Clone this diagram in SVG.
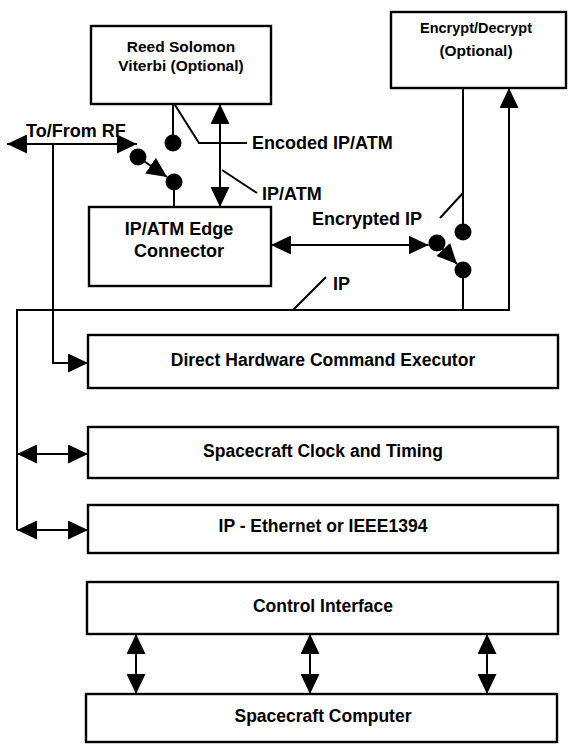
<svg xmlns="http://www.w3.org/2000/svg" width="569" height="744" viewBox="0 0 569 744">
  <style>
    .box { fill: #fff; stroke: #000; stroke-width: 2.4; }
    .ln { fill: none; stroke: #000; stroke-width: 2; }
    .dot { fill: #000; }
    text { font-family: "Liberation Sans", Arial, sans-serif; font-weight: bold; fill: #000; }
    .t { font-size: 17.5px; text-anchor: middle; }
    .ts { font-size: 15.5px; text-anchor: middle; }
    .lbl { font-size: 18px; }
  </style>
  <defs>
    <marker id="ah" viewBox="0 0 20 19" refX="20" refY="9.5" markerWidth="20" markerHeight="19" markerUnits="userSpaceOnUse" orient="auto-start-reverse">
      <path d="M0,0 L20,9.5 L0,19 z" fill="#000"/>
    </marker>
  </defs>

  <rect width="569" height="744" fill="#fff"/>

  <!-- blocks -->
  <g id="reed-solomon">
    <rect class="box" x="91" y="26" width="180" height="78"/>
    <text class="ts" x="181" y="52">Reed Solomon</text>
    <text class="ts" x="181" y="71">Viterbi (Optional)</text>
  </g>
  <g id="encrypt-decrypt">
    <rect class="box" x="391" y="12" width="175" height="76"/>
    <text class="ts" x="476" y="33" style="font-size:14.5px">Encrypt/Decrypt</text>
    <text class="ts" x="476" y="56">(Optional)</text>
  </g>
  <g id="edge-connector">
    <rect class="box" x="89" y="207" width="182" height="79"/>
    <text class="t" x="179" y="235" style="font-size:18px">IP/ATM Edge</text>
    <text class="t" x="179" y="257" style="font-size:18px">Connector</text>
  </g>
  <g id="hw-command">
    <rect class="box" x="88" y="335" width="470" height="53"/>
    <text class="t" x="323" y="366">Direct Hardware Command Executor</text>
  </g>
  <g id="clock-timing">
    <rect class="box" x="88" y="427" width="470" height="51"/>
    <text class="t" x="323" y="457">Spacecraft Clock and Timing</text>
  </g>
  <g id="ip-ethernet">
    <rect class="box" x="88" y="505" width="470" height="48"/>
    <text class="t" x="323" y="532">IP - Ethernet or IEEE1394</text>
  </g>
  <g id="control-interface">
    <rect class="box" x="87" y="582" width="471" height="52"/>
    <text class="t" x="323" y="612">Control Interface</text>
  </g>
  <g id="spacecraft-computer">
    <rect class="box" x="86" y="694" width="471" height="48"/>
    <text class="t" x="323" y="722">Spacecraft Computer</text>
  </g>

  <!-- links, switches and labels -->
  <g id="connectors">
    <!-- RF port and its switch -->
    <line class="ln" x1="7" y1="144" x2="137" y2="144" marker-start="url(#ah)" marker-end="url(#ah)"/>
    <text class="lbl" x="26" y="137">To/From RF</text>
    <line class="ln" x1="173" y1="104" x2="173" y2="135"/>
    <circle class="dot" cx="173" cy="143" r="8.5"/>
    <circle class="dot" cx="138" cy="157" r="8.5"/>
    <line class="ln" x1="138" y1="157" x2="167" y2="177" marker-end="url(#ah)"/>
    <circle class="dot" cx="174" cy="182" r="8.5"/>
    <line class="ln" x1="174" y1="182" x2="174" y2="207"/>
    <polyline class="ln" points="175,105 199,143 247,143"/>
    <text class="lbl" x="252" y="149">Encoded IP/ATM</text>

    <!-- coder to edge connector -->
    <line class="ln" x1="220" y1="104" x2="220" y2="207" marker-start="url(#ah)" marker-end="url(#ah)"/>
    <line class="ln" x1="222" y1="170" x2="257" y2="193"/>
    <text class="lbl" x="262" y="200">IP/ATM</text>

    <!-- encryption switch -->
    <line class="ln" x1="271" y1="245" x2="428.5" y2="245" marker-start="url(#ah)" marker-end="url(#ah)"/>
    <line class="ln" x1="463" y1="88" x2="463" y2="224"/>
    <circle class="dot" cx="463" cy="232" r="8.5"/>
    <circle class="dot" cx="437" cy="243" r="8.5"/>
    <line class="ln" x1="437" y1="243" x2="457" y2="264" marker-end="url(#ah)"/>
    <circle class="dot" cx="463" cy="270" r="8.5"/>
    <line class="ln" x1="463" y1="270" x2="463" y2="310"/>
    <line class="ln" x1="440" y1="218" x2="463" y2="193"/>
    <text class="lbl" x="312" y="225">Encrypted IP</text>

    <!-- IP bus -->
    <polyline class="ln" points="17,530 17,310 509,310 509,88" marker-end="url(#ah)"/>
    <line class="ln" x1="293" y1="310" x2="326" y2="277"/>
    <text class="lbl" x="333" y="290">IP</text>

    <!-- hardware command tap -->
    <polyline class="ln" points="53,144 53,363 88,363" marker-end="url(#ah)"/>

    <!-- bus drops -->
    <line class="ln" x1="17" y1="454" x2="88" y2="454" marker-start="url(#ah)" marker-end="url(#ah)"/>
    <line class="ln" x1="17" y1="530" x2="88" y2="530" marker-start="url(#ah)" marker-end="url(#ah)"/>

    <!-- control interface to computer -->
    <line class="ln" x1="136" y1="634" x2="136" y2="694" marker-start="url(#ah)" marker-end="url(#ah)"/>
    <line class="ln" x1="310" y1="634" x2="310" y2="694" marker-start="url(#ah)" marker-end="url(#ah)"/>
    <line class="ln" x1="487" y1="634" x2="487" y2="694" marker-start="url(#ah)" marker-end="url(#ah)"/>
  </g>
</svg>
